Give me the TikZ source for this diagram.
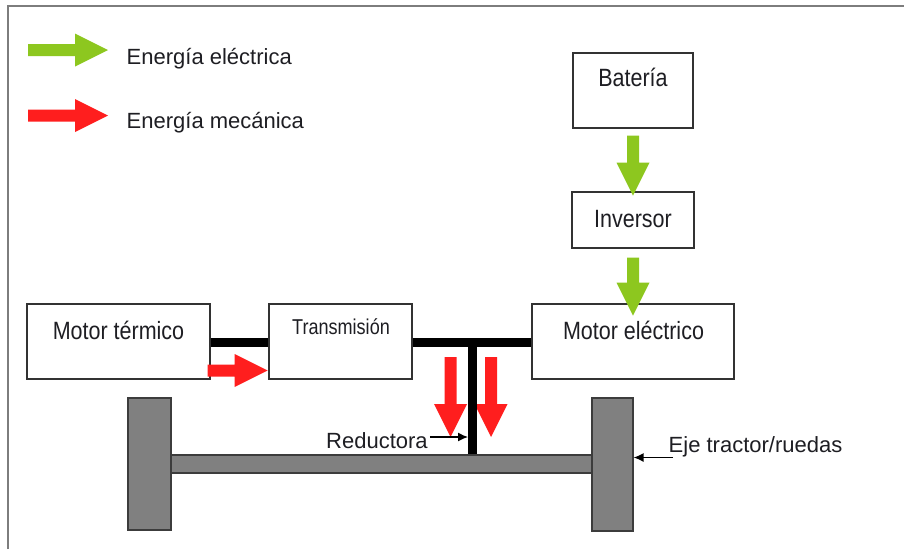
\documentclass[tikz,border=0pt]{standalone}
\usepackage{fontspec}
\setmainfont{Liberation Sans}
\usepackage{graphicx}
\usetikzlibrary{arrows.meta}
\definecolor{egreen}{RGB}{141,199,31}
\definecolor{ered}{RGB}{255,30,30}
\definecolor{boxline}{RGB}{50,50,50}
\definecolor{wheelgray}{RGB}{128,128,128}
\definecolor{wheelline}{RGB}{60,60,60}
\definecolor{framegray}{RGB}{125,125,125}
\definecolor{txt}{RGB}{30,30,35}
\begin{document}
\begin{tikzpicture}[x=1pt,y=-1pt,
  box/.style={draw=boxline, line width=1.3pt, fill=white, rectangle, inner sep=0},
  wheel/.style={draw=wheelline, line width=1.2pt, fill=wheelgray, rectangle, inner sep=0},
  btext/.style={inner sep=0, anchor=base, text=txt, font=\fontsize{25}{30}\selectfont},
  ltext/.style={inner sep=0, anchor=base west, text=txt, font=\fontsize{22}{26}\selectfont},
  shaft/.style={line width=9pt, black},
  annot/.style={line width=1.3pt, black, -{Latex[length=10pt,width=9pt]}},
  pics/blockarrow/.style={code={
    \fill (0,-6) -- (#1-33,-6) -- (#1-33,-16.5) -- (#1,0) -- (#1-33,16.5) -- (#1-33,6) -- (0,6) -- cycle;}}
]
\useasboundingbox (0,0) rectangle (904,549);
\fill[white] (0,0) rectangle (904,549);
% frame
\draw[framegray, line width=2pt] (8.3,549) -- (8.3,6) -- (904,6);

% legend
\pic[fill=egreen] at (28,50) {blockarrow=80};
\pic[fill=ered] at (28,115.5) {blockarrow=80};
\node[ltext] (le) at (126.5,64.5) {Energía eléctrica};
\node[ltext] (lm) at (126.5,128) {Energía mecánica};

% boxes
\node[box, minimum width=183pt, minimum height=75pt] (mt) at (118.5,341.5) {};
\node[box, minimum width=143pt, minimum height=75pt] (tr) at (340.5,341.5) {};
\node[box, minimum width=202pt, minimum height=75pt] (me) at (633,341.5) {};
\node[box, minimum width=120pt, minimum height=75pt] (bat) at (633,90.5) {};
\node[box, minimum width=122pt, minimum height=56pt] (inv) at (633,220) {};

\node[btext] (mt-t) at (118.5,339) {\scalebox{0.86}[1]{Motor térmico}};
\node[btext] (me-t) at (633.5,339) {\scalebox{0.86}[1]{Motor eléctrico}};
\node[btext] (bat-t) at (633,86) {\scalebox{0.86}[1]{Batería}};
\node[btext] (inv-t) at (633,227) {\scalebox{0.86}[1]{Inversor}};
\node[btext, font=\fontsize{21.5}{26}\selectfont] (tr-t) at (341,334) {\scalebox{0.84}[1]{Transmisión}};

% energy arrows
\pic[fill=egreen, rotate=-90] at ([yshift=-7pt]bat.south) {blockarrow=60};
\pic[fill=egreen, rotate=-90] at ([yshift=-9pt]inv.south) {blockarrow=58};
\pic[fill=ered] at ([shift={(-3,29)}]mt.east) {blockarrow=60};
\pic[fill=ered, rotate=-90] at (450.5,357) {blockarrow=80};
\pic[fill=ered, rotate=-90] at (491,357) {blockarrow=80};

% axle and wheels
\node[wheel, minimum width=423pt, minimum height=18pt] (ax) at (381.5,464) {};
\coordinate (tj) at (472.5,342.5);
\draw[shaft] ([yshift=-1pt]mt.east) -- ([yshift=-1pt]tr.west);
\draw[shaft] ([yshift=-1pt]tr.east) -- ([yshift=-1pt]me.west);
\draw[shaft] (tj) -- (tj |- ax.north);
\node[wheel, minimum width=43pt, minimum height=132pt] (lw) at (149.5,464) {};
\node[wheel, minimum width=41pt, minimum height=133pt] (rw) at (612.5,464.5) {};

% labels
\node[ltext] (red-t) at (326,448) {Reductora};
\node[ltext] (eje-t) at (668.5,452) {Eje tractor/ruedas};
\coordinate (rs) at ([shift={(2,-11)}]red-t.base east);
\draw[annot] (rs) -- ([xshift=-4.5pt]tj |- rs);
\coordinate (es) at ([shift={(4.5,5.5)}]eje-t.base west);
\draw[annot] (es) -- (es -| rw.east);
\end{tikzpicture}
\end{document}
